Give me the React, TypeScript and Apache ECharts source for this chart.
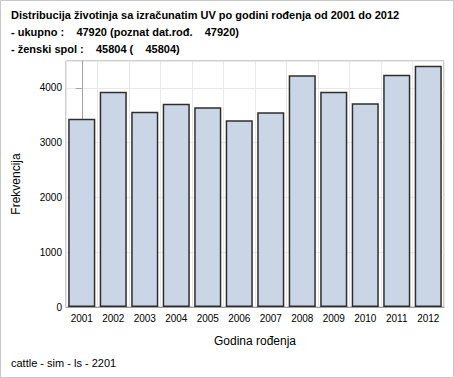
import React, { useEffect, useRef } from "react";
import * as echarts from "echarts";

const years = ["2001", "2002", "2003", "2004", "2005", "2006", "2007", "2008", "2009", "2010", "2011", "2012"];
const counts = [3439, 3932, 3567, 3713, 3647, 3410, 3556, 4231, 3932, 3720, 4243, 4407];
const titleLines = [
  "Distribucija životinja sa izračunatim UV po godini rođenja od 2001 do 2012",
  "- ukupno :    47920 (poznat dat.rođ.    47920)",
  "- ženski spol :    45804 (    45804)",
];
const footnote = "cattle - sim - ls - 2201";
const yAxisName = "Frekvencija";
const xAxisName = "Godina rođenja";

export default function App() {
  const ref = useRef<HTMLDivElement>(null);
  useEffect(() => {
    if (!ref.current) return;
    const chart = echarts.init(ref.current, null, { renderer: "svg" });
    const font = "'Liberation Sans', Arial, sans-serif";
    chart.setOption({
      animation: false,
      backgroundColor: "#ffffff",
      grid: { left: 66, right: 10, top: 61, bottom: 71, show: true, borderColor: "#a0a0a0", borderWidth: 1, containLabel: false },
      graphic: [
        { type: "rect", shape: { x: 0.5, y: 0.5, width: 453, height: 377 }, style: { fill: "none", stroke: "#c8c8c8", lineWidth: 1 }, silent: true },
        ...titleLines.map((t, i) => ({
          type: "text",
          left: 11,
          top: 9 + i * 17,
          style: { text: t, font: `bold 11px ${font}`, fill: "#000", whiteSpace: "pre" },
        })),
        { type: "text", left: 11, top: 357, style: { text: footnote, font: `11px ${font}`, fill: "#000" } },
      ],
      xAxis: [
        {
          type: "category",
          data: years,
          name: xAxisName,
          nameLocation: "middle",
          nameGap: 28,
          nameTextStyle: { fontFamily: font, fontSize: 12, color: "#000" },
          axisLine: { lineStyle: { color: "#a0a0a0" } },
          axisTick: { alignWithLabel: true, length: 4, lineStyle: { color: "#a0a0a0" } },
          axisLabel: { fontFamily: font, fontSize: 10, color: "#000", margin: 6, interval: 0 },
          splitLine: { show: false },
          z: 3,
        },
        {
          type: "value",
          min: -0.5,
          max: years.length - 0.5,
          interval: 1,
          position: "bottom",
          show: true,
          axisLine: { show: false },
          axisTick: { show: false },
          axisLabel: { show: false },
          splitLine: { show: true, lineStyle: { color: "#e8e8e8" } },
          z: 0,
        },
      ],
      yAxis: {
        type: "value",
        min: 0,
        max: 4493,
        interval: 1000,
        name: yAxisName,
        nameLocation: "middle",
        nameGap: 44,
        nameTextStyle: { fontFamily: font, fontSize: 12, color: "#000" },
        axisLine: { show: true, lineStyle: { color: "#a0a0a0" } },
        axisTick: { show: true, length: 6, lineStyle: { color: "#a0a0a0" } },
        axisLabel: { fontFamily: font, fontSize: 10, color: "#000", margin: 4, showMaxLabel: false, formatter: (v: number) => String(v) },
        splitLine: { show: true, lineStyle: { color: "#e8e8e8" } },
      },
      series: [
        {
          type: "bar",
          xAxisIndex: 0,
          data: counts,
          barCategoryGap: "14%",
          itemStyle: { color: "#cad5e5", borderColor: "#2e2e2e", borderWidth: 1.5 },
        },
      ],
    });
    return () => chart.dispose();
  }, []);
  return <div ref={ref} style={{ position: "fixed", left: 0, top: 0, width: 454, height: 378 }} />;
}
